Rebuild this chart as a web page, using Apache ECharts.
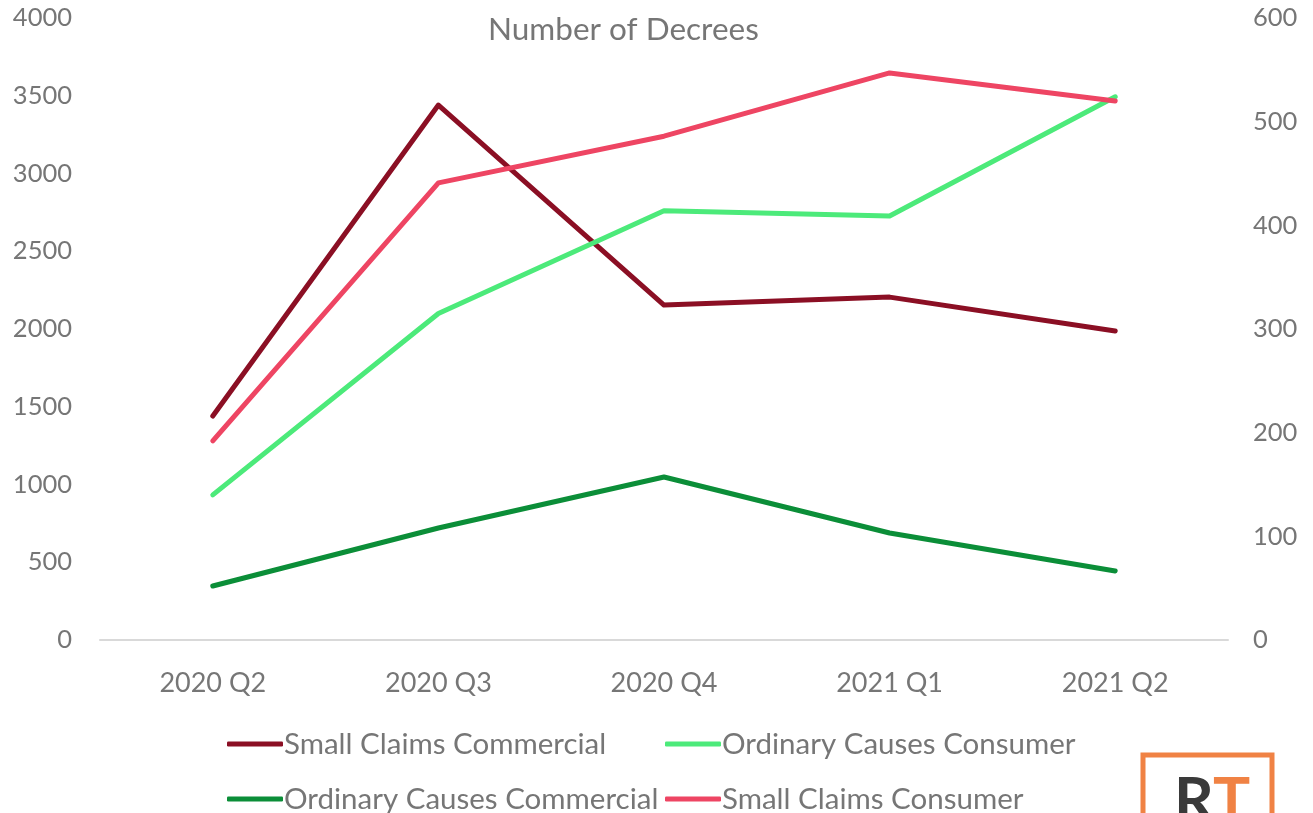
<!DOCTYPE html>
<html style="height: 100%">
<head>
<meta charset="utf-8">
<title>Number of Decrees</title>
<script src="https://cdn.jsdelivr.net/npm/echarts@6/dist/echarts.min.js"></script>
</head>
<body style="margin: 0">
<div id="container" style="height: 813px; width: 1313px;"></div>
<script type="text/javascript">
var quarters = ['2020 Q2', '2020 Q3', '2020 Q4', '2021 Q1', '2021 Q2'];
// left axis
var smallClaimsCommercial = [1440, 3440, 2154, 2205, 1987];
var ordinaryCausesCommercial = [347, 720, 1048, 688, 444];
// right axis
var ordinaryCausesConsumer = [140, 315, 414, 409, 524];
var smallClaimsConsumer = [192, 441, 486, 547, 520];

var font = 'Lato';
var grey = '#767676';

var dom = document.getElementById('container');
var myChart = echarts.init(dom);

function line(name, data, color, yIdx) {
    return {
        name: name,
        type: 'line',
        yAxisIndex: yIdx,
        data: data,
        symbol: 'none',
        lineStyle: {color: color, width: 5, cap: 'round', join: 'round'},
        itemStyle: {color: color},
        animation: false
    };
}

function legendItem(name, left, top) {
    return {
        data: [name],
        left: left,
        top: top,
        itemWidth: 56,
        itemHeight: 5,
        itemGap: 0,
        textStyle: {fontFamily: font, fontSize: 29.5, color: grey, padding: [0, 0, 0, -4]},
        icon: 'roundRect'
    };
}

var option = {
    title: {
        text: 'Number of Decrees',
        left: 483,
        top: 9,
        textStyle: {fontFamily: font, fontSize: 31.5, fontWeight: 'normal', color: grey}
    },
    grid: {left: 100, right: 85, top: 18, bottom: 173},
    legend: [
        legendItem('Small Claims Commercial', 222, 724),
        legendItem('Ordinary Causes Consumer', 660, 724),
        legendItem('Ordinary Causes Commercial', 222, 779),
        legendItem('Small Claims Consumer', 660, 779)
    ],
    xAxis: {
        type: 'category',
        data: quarters,
        boundaryGap: true,
        axisLine: {lineStyle: {color: '#d9d9d9', width: 2}},
        axisTick: {length: 10, lineStyle: {color: '#d9d9d9', width: 2}},
        axisLabel: {fontFamily: font, fontSize: 27, color: grey, margin: 30}
    },
    yAxis: [{
        type: 'value',
        min: 0, max: 4000, interval: 500,
        splitLine: {show: false},
        axisLabel: {fontFamily: font, fontSize: 25.5, color: grey, margin: 28,
            formatter: function (v) { return String(v); }}
    }, {
        type: 'value',
        min: 0, max: 600, interval: 100,
        splitLine: {show: false},
        axisLabel: {fontFamily: font, fontSize: 25.5, color: grey, margin: 25}
    }],
    graphic: [{
        type: 'rect',
        shape: {x: 1143, y: 755, width: 129, height: 100},
        style: {fill: 'none', stroke: '#f08244', lineWidth: 5}
    }, {
        type: 'text',
        x: 1174, y: 770,
        style: {text: 'R', font: 'bold 62px Lato', fill: '#3a3a3a'}
    }, {
        type: 'text',
        x: 1213, y: 770,
        style: {text: 'T', font: 'bold 62px Lato', fill: '#f08244'}
    }],
    series: [
        line('Small Claims Commercial', smallClaimsCommercial, '#8b0f24', 0),
        line('Ordinary Causes Consumer', ordinaryCausesConsumer, '#4cea7a', 1),
        line('Ordinary Causes Commercial', ordinaryCausesCommercial, '#0b8e38', 0),
        line('Small Claims Consumer', smallClaimsConsumer, '#ee4563', 1)
    ]
};

myChart.setOption(option, true);
</script>
</body>
</html>
